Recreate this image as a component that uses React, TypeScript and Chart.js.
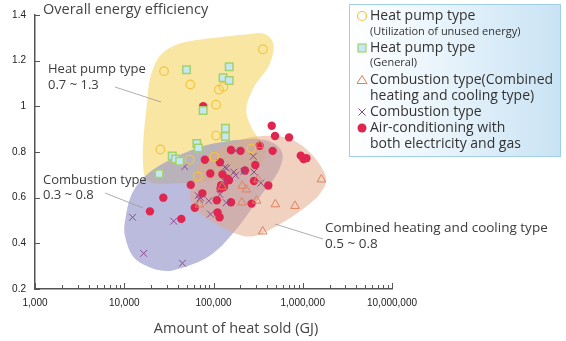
import React, { useEffect, useRef } from 'react';
import { Chart, registerables } from 'chart.js';
Chart.register(...registerables);

// ---------- data ----------
const heatUnusedX = [358000, 27900, 55000, 115000, 129000, 107000, 107000, 25400, 267000, 54000, 102000, 66700];
const heatUnusedY = [1.25, 1.154, 1.096, 1.073, 1.086, 1.007, 0.872, 0.811, 0.816, 0.766, 0.779, 0.693];

const heatGeneralX = [49800, 150000, 128000, 150000, 76600, 136000, 136000, 65000, 67800, 34500, 37500, 41800, 24600];
const heatGeneralY = [1.16, 1.173, 1.125, 1.113, 0.982, 0.904, 0.868, 0.837, 0.818, 0.783, 0.769, 0.759, 0.705];

const combinedX = [1620000, 819000, 493000, 356000, 208000, 304000, 210000, 233000, 315000, 69700, 125000, 329000];
const combinedY = [0.68, 0.564, 0.571, 0.452, 0.579, 0.587, 0.652, 0.636, 0.68, 0.57, 0.648, 0.83];

const combustionX = [12400, 16500, 35800, 44900, 47600, 67300, 69700, 71400, 88500, 92500, 118000, 134000, 140000, 169000, 177000, 219000, 284000, 279000, 177000, 340000, 139000, 134000];
const combustionY = [0.514, 0.356, 0.497, 0.313, 0.736, 0.609, 0.593, 0.6, 0.586, 0.528, 0.614, 0.733, 0.729, 0.712, 0.698, 0.715, 0.712, 0.781, 0.805, 0.664, 0.578, 0.669];

const acX = [449000, 489000, 702000, 157000, 201000, 329000, 460000, 950000, 1020000, 1100000, 80000, 118000, 294000, 126000, 92000, 55600, 143000, 122000, 131000, 120000, 149000, 284000, 411000, 75000, 109000, 157000, 267000, 61700, 111000, 117000, 27400, 19400, 43600, 225000, 76600];
const acY = [0.915, 0.87, 0.864, 0.809, 0.805, 0.827, 0.805, 0.784, 0.769, 0.773, 0.766, 0.755, 0.743, 0.702, 0.706, 0.656, 0.683, 0.655, 0.647, 0.64, 0.676, 0.673, 0.653, 0.619, 0.589, 0.58, 0.574, 0.556, 0.535, 0.514, 0.6, 0.54, 0.507, 0.719, 1.001];

// region outlines (GJ, efficiency)
const heatRegionX = [18000, 19400, 25000, 42000, 104000, 230000, 370000, 470000, 420000, 290000, 235000, 250000, 316000, 378000, 292000, 104000, 28600, 18000, 16200, 16600];
const heatRegionY = [1.01, 1.12, 1.22, 1.275, 1.3, 1.315, 1.318, 1.27, 1.18, 1.09, 1.0, 0.93, 0.86, 0.8, 0.72, 0.677, 0.66, 0.677, 0.755, 0.884];

const combRegionX = [10400, 12500, 19400, 37000, 80000, 198000, 408000, 587000, 529000, 332000, 174000, 91000, 42000, 25000, 13200, 10200];
const combRegionY = [0.518, 0.626, 0.712, 0.776, 0.828, 0.854, 0.849, 0.798, 0.712, 0.604, 0.454, 0.346, 0.29, 0.282, 0.333, 0.432];

const chcRegionX = [54600, 65300, 104000, 225000, 430000, 759000, 1270000, 1820000, 1560000, 931000, 489000, 292000, 183000, 96000, 62000];
const chcRegionY = [0.617, 0.733, 0.806, 0.858, 0.871, 0.854, 0.789, 0.69, 0.617, 0.54, 0.471, 0.432, 0.441, 0.497, 0.553];

const yTicks = [0.2, 0.4, 0.6, 0.8, 1.0, 1.2, 1.4];
const xDecades = [1000, 10000, 100000, 1000000, 10000000];

const legendLines: [string, number][] = [
  ['Heat pump type', 14],
  ['(Utilization of unused energy)', 11],
  ['Heat pump type', 14],
  ['(General)', 11],
  ['Combustion type(Combined', 14],
  ['heating and cooling type)', 14],
  ['Combustion type', 14],
  ['Air-conditioning with', 14],
  ['both electricity and gas', 14],
];

const SANS = '"Open Sans", "Liberation Sans", Arial, sans-serif';
const TICKF = '"Liberation Sans", Arial, sans-serif';

const COL = {
  circle: '#f2c53c',
  sqFill: '#c6e8f6',
  sqEdge: '#a3d26c',
  tri: '#e2805c',
  cross: '#8b4a8f',
  dot: '#e0264f',
};

const pts = (xs: number[], ys: number[]) => xs.map((x, i) => ({ x, y: ys[i] }));

function smoothClosed(ctx: CanvasRenderingContext2D, p: number[][]) {
  const n = p.length;
  ctx.beginPath();
  ctx.moveTo(p[0][0], p[0][1]);
  for (let i = 0; i < n; i++) {
    const p0 = p[(i - 1 + n) % n], p1 = p[i], p2 = p[(i + 1) % n], p3 = p[(i + 2) % n];
    const c1x = p1[0] + (p2[0] - p0[0]) / 6, c1y = p1[1] + (p2[1] - p0[1]) / 6;
    const c2x = p2[0] - (p3[0] - p1[0]) / 6, c2y = p2[1] - (p3[1] - p1[1]) / 6;
    ctx.bezierCurveTo(c1x, c1y, c2x, c2y, p2[0], p2[1]);
  }
  ctx.closePath();
}

const blobPlugin = {
  id: 'blobs',
  beforeDatasetsDraw(chart: any) {
    const { ctx, scales } = chart;
    const xs = scales.x, ys = scales.y;
    const draw = (X: number[], Y: number[], fill: string) => {
      const p = X.map((v, i) => [xs.getPixelForValue(v), ys.getPixelForValue(Y[i])]);
      ctx.save();
      smoothClosed(ctx, p);
      ctx.fillStyle = fill;
      ctx.fill();
      ctx.restore();
    };
    draw(heatRegionX, heatRegionY, 'rgb(249,230,163)');
    draw(combRegionX, combRegionY, 'rgba(145,145,200,0.62)');
    draw(chcRegionX, chcRegionY, 'rgba(228,165,130,0.5)');
  },
  afterDraw(chart: any) {
    const { ctx, scales, chartArea } = chart;
    const xs = scales.x, ys = scales.y;
    ctx.save();
    // inward tick marks
    ctx.strokeStyle = '#555';
    ctx.lineWidth = 1;
    for (const v of yTicks) {
      const py = Math.round(ys.getPixelForValue(v)) + 0.5;
      ctx.beginPath();
      ctx.moveTo(chartArea.left, py);
      ctx.lineTo(chartArea.left + 5, py);
      ctx.stroke();
    }
    for (let d = 0; d < xDecades.length; d++) {
      const base = xDecades[d];
      for (let m = 1; m <= 9; m++) {
        const v = base * m;
        if (v > xDecades[xDecades.length - 1]) break;
        const px = Math.round(xs.getPixelForValue(v)) + 0.5;
        ctx.beginPath();
        ctx.moveTo(px, chartArea.bottom);
        ctx.lineTo(px, chartArea.bottom - (m === 1 ? 6 : 4));
        ctx.stroke();
      }
    }
    // axis titles
    ctx.fillStyle = '#444';
    ctx.font = `14.5px ${SANS}`;
    ctx.textAlign = 'left';
    ctx.textBaseline = 'alphabetic';
    ctx.fillText('Overall energy efficiency', 43, 14);
    ctx.textAlign = 'center';
    ctx.fillText('Amount of heat sold (GJ)', 236, 333);

    // annotations
    ctx.textAlign = 'left';
    ctx.fillStyle = '#3c3c3c';
    ctx.font = `13px ${SANS}`;
    ctx.fillText('Heat pump type', 48, 73);
    ctx.fillText('0.7 ~ 1.3', 48, 89);
    ctx.fillText('Combustion type', 43, 184);
    ctx.fillText('0.3 ~ 0.8', 43, 199);
    ctx.font = `13.5px ${SANS}`;
    ctx.fillText('Combined heating and cooling type', 325, 232);
    ctx.fillText('0.5 ~ 0.8', 325, 248);
    ctx.strokeStyle = '#999';
    ctx.lineWidth = 0.8;
    const line = (a: number, b: number, c: number, d: number) => {
      ctx.beginPath(); ctx.moveTo(a, b); ctx.lineTo(c, d); ctx.stroke();
    };
    line(115, 87, 161, 102);
    line(105, 193, 143, 208);
    line(275, 224, 323, 239);

    // legend box
    const lx = 349, ly = 4, lw = 211, lh = 152;
    const g = ctx.createLinearGradient(lx, 0, lx + lw, 0);
    g.addColorStop(0, '#ffffff');
    g.addColorStop(0.25, '#f3f9fd');
    g.addColorStop(1, '#c9e3f4');
    ctx.fillStyle = g;
    ctx.fillRect(lx, ly, lw, lh);
    ctx.strokeStyle = '#9fd0e8';
    ctx.lineWidth = 1;
    ctx.strokeRect(lx + 0.5, ly + 0.5, lw, lh);

    const baselines = [20, 35, 52, 66, 84, 100, 116, 132, 148];
    ctx.fillStyle = '#333';
    legendLines.forEach(([t, s], i) => {
      ctx.font = `${s}px ${SANS}`;
      ctx.fillText(t, 370, baselines[i]);
    });
    const mx = 362;
    // circle
    ctx.beginPath(); ctx.arc(mx, 16, 4.5, 0, Math.PI * 2);
    ctx.strokeStyle = COL.circle; ctx.lineWidth = 1.2; ctx.stroke();
    // square
    ctx.fillStyle = COL.sqFill; ctx.fillRect(mx - 4, 44, 8, 8);
    ctx.strokeStyle = COL.sqEdge; ctx.lineWidth = 1.2; ctx.strokeRect(mx - 4, 44, 8, 8);
    // triangle
    ctx.beginPath(); ctx.moveTo(mx, 75.5); ctx.lineTo(mx + 5, 83.5); ctx.lineTo(mx - 5, 83.5); ctx.closePath();
    ctx.strokeStyle = COL.tri; ctx.lineWidth = 1; ctx.stroke();
    // cross
    ctx.beginPath(); ctx.moveTo(mx - 3.5, 108.5); ctx.lineTo(mx + 3.5, 115.5); ctx.moveTo(mx + 3.5, 108.5); ctx.lineTo(mx - 3.5, 115.5);
    ctx.strokeStyle = COL.cross; ctx.lineWidth = 1; ctx.stroke();
    // dot
    ctx.beginPath(); ctx.arc(mx, 128, 4.5, 0, Math.PI * 2); ctx.fillStyle = COL.dot; ctx.fill();
    ctx.restore();
  },
};

export default function App() {
  const ref = useRef<HTMLCanvasElement>(null);
  useEffect(() => {
    document.body.style.margin = '0';
    const c = ref.current!;
    const chart = new Chart(c, {
      type: 'scatter',
      data: {
        datasets: [
          {
            label: 'Heat pump type (Utilization of unused energy)',
            data: pts(heatUnusedX, heatUnusedY),
            pointStyle: 'circle', pointRadius: 4.3, borderColor: COL.circle, backgroundColor: 'rgba(0,0,0,0)', borderWidth: 1.2,
          },
          {
            label: 'Heat pump type (General)',
            data: pts(heatGeneralX, heatGeneralY),
            pointStyle: 'rect', pointRadius: 5.3, borderColor: COL.sqEdge, backgroundColor: COL.sqFill, borderWidth: 1.5,
          },
          {
            label: 'Combustion type (Combined heating and cooling type)',
            data: pts(combinedX, combinedY),
            pointStyle: 'triangle', pointRadius: 5, borderColor: COL.tri, backgroundColor: 'rgba(0,0,0,0)', borderWidth: 1,
          },
          {
            label: 'Combustion type',
            data: pts(combustionX, combustionY),
            pointStyle: 'crossRot', pointRadius: 4.8, borderColor: COL.cross, backgroundColor: COL.cross, borderWidth: 1,
          },
          {
            label: 'Air-conditioning with both electricity and gas',
            data: pts(acX, acY),
            pointStyle: 'circle', pointRadius: 4.2, borderColor: COL.dot, backgroundColor: COL.dot, borderWidth: 0,
          },
        ],
      },
      options: {
        animation: false,
        responsive: true,
        maintainAspectRatio: false,
        layout: { padding: { left: 0, top: 10, right: 174, bottom: 0 } },
        plugins: { legend: { display: false }, tooltip: { enabled: false } },
        events: [],
        scales: {
          x: {
            type: 'logarithmic',
            min: 1000,
            max: 10000000,
            grid: { display: false, drawTicks: false },
            border: { display: true, color: '#555', width: 1.5 },
            ticks: {
              autoSkip: false,
              maxRotation: 0,
              padding: 8,
              color: '#222',
              font: { family: TICKF, size: 10 },
              callback: (v: any) => {
                const l = Math.log10(Number(v));
                return Math.abs(l - Math.round(l)) < 1e-9 ? Number(v).toLocaleString('en-US') : '';
              },
            },
            afterFit: (s: any) => { s.height = 52; },
          },
          y: {
            min: 0.2,
            max: 1.4,
            grid: { display: false, drawTicks: false },
            border: { display: true, color: '#555', width: 1.5 },
            ticks: {
              stepSize: 0.2,
              padding: 9,
              color: '#222',
              font: { family: TICKF, size: 10 },
              callback: (v: any) => String(Math.round(Number(v) * 10) / 10),
            },
            afterFit: (s: any) => { s.width = 35; },
          },
        },
      },
      plugins: [blobPlugin],
    });
    return () => chart.destroy();
  }, []);
  return (
    <div style={{ width: 566, height: 341, position: 'relative' }}>
      <canvas ref={ref} />
    </div>
  );
}
